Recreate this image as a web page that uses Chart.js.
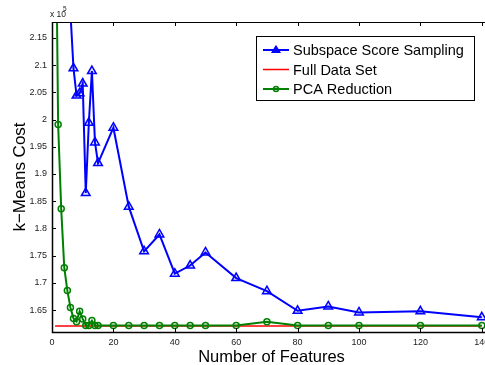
<!DOCTYPE html>
<html>
<head>
<meta charset="utf-8">
<script src="https://cdn.jsdelivr.net/npm/chart.js"></script>
<style>
    html, body { margin: 0; padding: 0; overflow: hidden; background: #fff; width: 485px; height: 365px; }
    canvas { display: block; }
</style>
</head>
<body>
<canvas id="costChart" width="500" height="365" style="width:500px;height:365px"></canvas>
<script>
// Data (k-means cost, raw values; axis shows them x 10^5)
const scoreFeatures = [5, 7, 8, 9, 10, 11, 12, 13, 14, 15, 20, 25, 30, 35, 40, 45, 50, 60, 70, 80, 90, 100, 120, 140];
const scoreCost = [230000, 209400, 204400, 204800, 206600, 186500, 199400, 208900, 195800, 192000, 198500, 184000,
    175800, 178900, 171700, 173200, 175600, 170900, 168500, 164900, 165700, 164600, 164800, 163700];

const fullFeatures = [1, 140];
const fullCost = [162100, 162100];

const pcaFeatures = [1, 2, 3, 4, 5, 6, 7, 8, 9, 10, 11, 12, 13, 14, 15, 20, 25, 30, 35, 40, 45, 50, 60, 70, 80, 90, 100, 120, 140];
const pcaCost = [251000, 199100, 183600, 172800, 168600, 165500, 163500, 162900, 164800, 163400, 162200, 162200, 163100,
    162200, 162200, 162200, 162200, 162200, 162200, 162200, 162200, 162200, 162200, 162900, 162200, 162200, 162200, 162200, 162200];

const xTicks = [0, 20, 40, 60, 80, 100, 120, 140];
const yTicks = [165000, 170000, 175000, 180000, 185000, 190000, 195000, 200000, 205000, 210000, 215000];

const seriesNames = ['Subspace Score Sampling', 'Full Data Set', 'PCA Reduction'];
const seriesColors = ['#0000ff', '#ff0000', '#008000'];

const FONT = '"Liberation Sans", Arial, Helvetica, sans-serif';

function toPoints(xs, ys) {
    return xs.map((x, i) => ({ x: x, y: ys[i] }));
}

// MATLAB-like box, inward ticks, legend and exponent label
const matlabFrame = {
    id: 'matlabFrame',
    afterDatasetsDraw(chart) {
        const { ctx, chartArea: a, scales: { x, y } } = chart;
        ctx.save();

        // ticks pointing inward
        ctx.strokeStyle = '#000';
        ctx.lineWidth = 1;
        ctx.beginPath();
        xTicks.forEach(v => {
            const px = Math.round(x.getPixelForValue(v)) + 0.5;
            ctx.moveTo(px, a.bottom); ctx.lineTo(px, a.bottom - 4);
            ctx.moveTo(px, a.top); ctx.lineTo(px, a.top + 4);
        });
        yTicks.forEach(v => {
            const py = Math.round(y.getPixelForValue(v)) + 0.5;
            ctx.moveTo(a.left, py); ctx.lineTo(a.left + 4, py);
            ctx.moveTo(a.right, py); ctx.lineTo(a.right - 4, py);
        });
        ctx.stroke();

        // box
        ctx.lineWidth = 1;
        ctx.strokeRect(a.left + 0.5, a.top + 0.5, a.right - a.left, a.bottom - a.top);
        ctx.lineWidth = 1.5;
        ctx.beginPath();
        ctx.moveTo(a.left + 0.5, a.top);
        ctx.lineTo(a.left + 0.5, a.bottom + 0.5);
        ctx.lineTo(a.right, a.bottom + 0.5);
        ctx.stroke();

        // exponent label
        ctx.fillStyle = '#222';
        ctx.textBaseline = 'alphabetic';
        ctx.textAlign = 'left';
        ctx.font = '8.5px ' + FONT;
        ctx.fillText('x 10', 50, 16.5);
        ctx.font = '6.5px ' + FONT;
        ctx.fillText('5', 63, 11);

        // legend
        const box = { left: 256.5, top: 36.5, width: 218, height: 64 };
        ctx.fillStyle = '#fff';
        ctx.fillRect(box.left, box.top, box.width, box.height);
        ctx.lineWidth = 1;
        ctx.strokeStyle = '#000';
        ctx.strokeRect(box.left, box.top, box.width, box.height);

        const rows = [50, 69.5, 89];
        ctx.font = '14.5px ' + FONT;
        ctx.textBaseline = 'middle';
        seriesNames.forEach((name, i) => {
            const ly = rows[i];
            ctx.strokeStyle = seriesColors[i];
            ctx.lineWidth = i === 1 ? 1.5 : 2;
            ctx.beginPath();
            ctx.moveTo(263, ly);
            ctx.lineTo(289, ly);
            ctx.stroke();
            if (i === 0) {
                ctx.fillStyle = seriesColors[i];
                ctx.beginPath();
                ctx.moveTo(276, ly - 4);
                ctx.lineTo(280, ly + 2.5);
                ctx.lineTo(272, ly + 2.5);
                ctx.closePath();
                ctx.fill();
                ctx.lineWidth = 1.2;
                ctx.stroke();
            } else if (i === 2) {
                ctx.lineWidth = 1.5;
                ctx.beginPath();
                ctx.arc(276, ly, 2.5, 0, Math.PI * 2);
                ctx.stroke();
            }
            ctx.fillStyle = '#000';
            ctx.fillText(name, 293, ly + 1);
        });

        ctx.restore();
    }
};

new Chart(document.getElementById('costChart'), {
    type: 'line',
    data: {
        datasets: [
            {
                label: seriesNames[0],
                data: toPoints(scoreFeatures, scoreCost),
                borderColor: seriesColors[0],
                backgroundColor: 'transparent',
                borderWidth: 2,
                pointStyle: 'triangle',
                pointRadius: 5,
                pointBorderWidth: 1.5,
                pointBorderColor: seriesColors[0],
                pointBackgroundColor: 'rgba(0,0,255,0.12)',
                tension: 0,
                order: 3
            },
            {
                label: seriesNames[1],
                data: toPoints(fullFeatures, fullCost),
                borderColor: seriesColors[1],
                backgroundColor: 'transparent',
                borderWidth: 1.5,
                pointRadius: 0,
                tension: 0,
                order: 2
            },
            {
                label: seriesNames[2],
                data: toPoints(pcaFeatures, pcaCost),
                borderColor: seriesColors[2],
                backgroundColor: 'transparent',
                borderWidth: 2,
                pointStyle: 'circle',
                pointRadius: 3,
                pointBorderWidth: 1.5,
                pointBorderColor: seriesColors[2],
                pointBackgroundColor: 'transparent',
                tension: 0,
                order: 1
            }
        ]
    },
    options: {
        responsive: false,
        animation: false,
        layout: { padding: { top: 22, right: 9, left: 0, bottom: 0 } },
        plugins: {
            legend: { display: false },
            tooltip: { enabled: false }
        },
        scales: {
            x: {
                type: 'linear',
                min: 0,
                max: 143,
                grid: { display: false, drawTicks: false },
                border: { display: false },
                afterBuildTicks: scale => { scale.ticks = xTicks.map(v => ({ value: v })); },
                afterFit: scale => { scale.height = 33; },
                ticks: {
                    padding: 5,
                    maxRotation: 0,
                    color: '#222',
                    font: { family: FONT, size: 9 }
                },
                title: {
                    display: true,
                    text: 'Number of Features',
                    color: '#000',
                    padding: { top: 0, bottom: -2 },
                    font: { family: FONT, size: 16.5 }
                }
            },
            y: {
                type: 'linear',
                min: 161000,
                max: 217900,
                grid: { display: false, drawTicks: false },
                border: { display: false },
                afterBuildTicks: scale => { scale.ticks = yTicks.map(v => ({ value: v })); },
                afterFit: scale => { scale.width = 52; },
                ticks: {
                    padding: 5,
                    color: '#222',
                    font: { family: FONT, size: 9 },
                    callback: v => String(+(v / 1e5).toFixed(2))
                },
                title: {
                    display: true,
                    text: 'k\u2212Means Cost',
                    color: '#000',
                    padding: { top: 10, bottom: 0 },
                    font: { family: FONT, size: 17 }
                }
            }
        }
    },
    plugins: [matlabFrame]
});
</script>
</body>
</html>
